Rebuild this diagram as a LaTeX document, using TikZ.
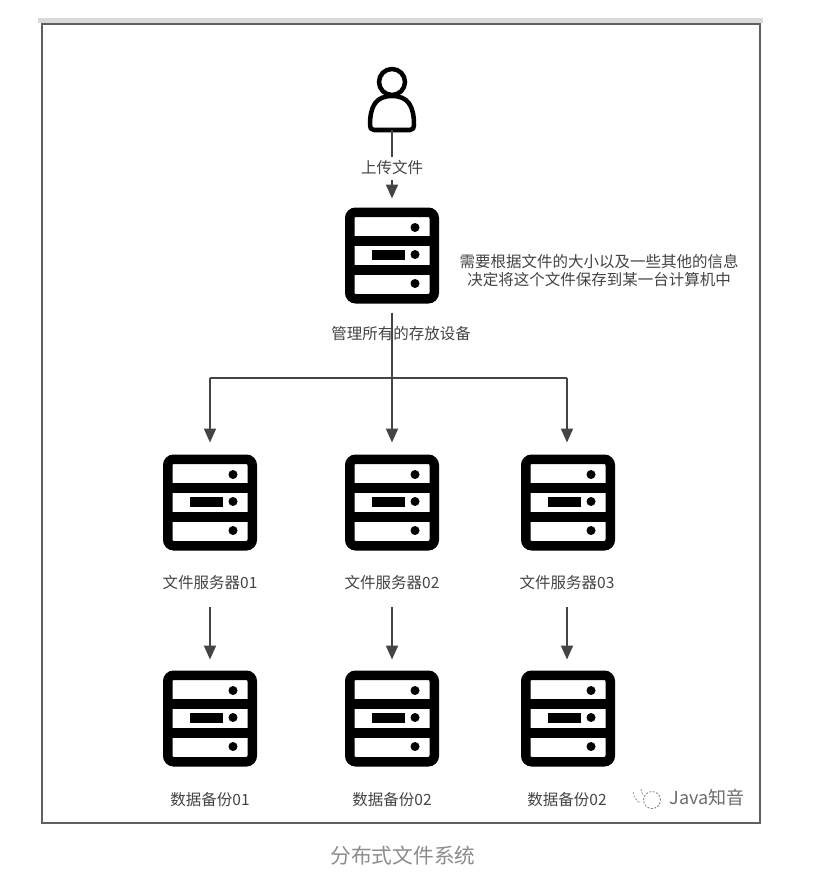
\documentclass[tikz,border=0pt]{standalone}
\usepackage{fontspec}
\setmainfont{Liberation Sans}
\newfontfamily\cjk{Noto Sans CJK SC}
\usetikzlibrary{arrows.meta}
\definecolor{txt}{HTML}{444444}
\definecolor{ln}{HTML}{444444}
\tikzset{
  srvbox/.style={draw=black,line width=9.5pt,rounded corners=6pt,minimum width=84.5pt,minimum height=86.5pt,inner sep=0pt,fill=white},
  lbl/.style={font=\cjk\fontsize{15.5}{18}\selectfont,text=txt,inner sep=1pt,align=center},
  conn/.style={draw=ln,line width=2pt},
  arr/.style={conn,-{Triangle[length=14pt,width=12pt]}},
}
\newcommand{\srv}[3]{%
  \node[srvbox] (#1) at (#2,#3) {};
  \fill[black] (#2+23,#3-28) circle (4.5pt);
  \fill[black] (#2+23,#3-1) circle (4.5pt);
  \fill[black] (#2+23,#3+28) circle (4.5pt);
  \fill[black] (#2-20,#3-5.5) rectangle (#2+13,#3+4.5);
  \draw[black,line width=10pt] (#2-40,#3-14.5) -- (#2+40,#3-14.5);
  \draw[black,line width=10pt] (#2-40,#3+14.5) -- (#2+40,#3+14.5);
}
\begin{document}
\begin{tikzpicture}[x=1pt,y=-1pt]
\useasboundingbox (0,0) rectangle (837,888);
\fill[white] (0,0) rectangle (837,888);
\fill[gray!30] (38,18) rectangle (763,23);
\fill[white] (43,24) rectangle (760,823);
\draw[draw=ln!85,line width=2.4pt] (42,24) rectangle (760,823);
% user
\node[minimum width=45pt,minimum height=36pt,inner sep=0pt,outer sep=0pt] (user) at (392,112) {};
\draw[black,line width=4.5pt,line join=round,fill=white]
  (370,125) .. controls (370,106) and (376,96) .. (392,96)
  .. controls (408,96) and (414,106) .. (414,125)
  .. controls (414,128) and (413,130) .. (410,130) -- (374,130)
  .. controls (371,130) and (370,128) .. (370,125) -- cycle;
\node[circle,draw=black,line width=4.5pt,minimum size=26pt,inner sep=0pt,fill=white] (head) at (392,82) {};
\srv{mgr}{392}{255.5}
\srv{s1}{210}{502.5}
\srv{s2}{392}{502.5}
\srv{s3}{568}{502.5}
\srv{b1}{210}{718.5}
\srv{b2}{392}{718.5}
\srv{b3}{568}{718.5}
% labels
\node[lbl] (up) at (392,168) {上传文件};
\node[lbl] (mgrl) at (401,334) {管理所有的存放设备};
\node[lbl] (note) at (599,270.5) {需要根据文件的大小以及一些其他的信息\\决定将这个文件保存到某一台计算机中};
\node[lbl] (l1) at (210,583) {文件服务器01};
\node[lbl] (l2) at (392,583) {文件服务器02};
\node[lbl] (l3) at (567,583) {文件服务器03};
\node[lbl] (d1) at (210,800) {数据备份01};
\node[lbl] (d2) at (392,800) {数据备份02};
\node[lbl] (d3) at (567,800) {数据备份02};
% connectors
\coordinate (bus) at (392,378);
\coordinate (busl) at (210,378);
\coordinate (busr) at (567,378);
\draw[conn,shorten >=3pt] (user.south) -- (up.north);
\draw[arr,shorten <=4pt,shorten >=9pt] (up.south) -- (mgr.north);
\draw[conn,shorten <=9pt] (mgr.south) -- (bus);
\draw[arr,shorten >=12pt] (bus) -- (s2.north);
\draw[conn] (busl) -- (busr);
\draw[arr,shorten >=12pt] (busl) -- (s1.north);
\draw[arr,shorten >=12pt] (busr) -- (busr |- s3.north);
\draw[arr,shorten <=16pt,shorten >=11pt] (l1.south) -- (b1.north);
\draw[arr,shorten <=16pt,shorten >=11pt] (l2.south) -- (b2.north);
\draw[arr,shorten <=16pt,shorten >=11pt] (l3.south) -- (l3.south |- b3.north);
% watermark
\draw[gray,line width=.8pt,dash pattern=on 2pt off 1.5pt] (652,800) circle (8.5pt);
\draw[gray!80,line width=.8pt,dash pattern=on 2pt off 1.5pt] (633,792) .. controls (634,798) and (637,801) .. (640,803);
\draw[gray!80,line width=.8pt,dash pattern=on 2pt off 1.5pt] (641,789) -- (643,796);
\node[lbl,text=gray!85!black,font=\cjk\fontsize{18}{20}\selectfont] (wm) at (707,798) {Java知音};
% caption
\node[lbl,text=gray!90,font=\cjk\fontsize{20.7}{24}\selectfont] (cap) at (403,856) {分布式文件系统};
\end{tikzpicture}
\end{document}
